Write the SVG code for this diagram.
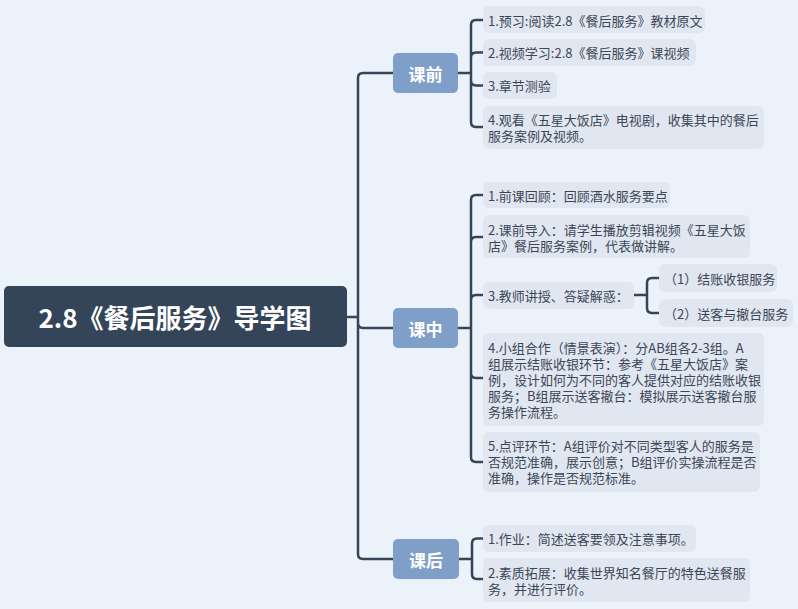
<svg xmlns="http://www.w3.org/2000/svg" width="798" height="609" viewBox="0 0 798 609">
<style>
.bg{fill:#ecf2f9}
.line{fill:none;stroke:#344459;stroke-width:2.5;stroke-linecap:round}
.root rect{fill:#344459}
.root text{fill:#ffffff;font-family:"Noto Sans CJK SC","Noto Sans",sans-serif;font-size:26px;font-weight:bold;text-anchor:middle;dominant-baseline:central}
.main rect{fill:#809fc8}
.main text{fill:#ffffff;font-family:"Noto Sans CJK SC","Noto Sans",sans-serif;font-size:17px;font-weight:bold;text-anchor:middle;dominant-baseline:central}
.leaf rect{fill:#e0e7f0}
.leaf text{fill:#3c4657;font-family:"Noto Sans CJK SC","Noto Sans",sans-serif;font-size:13px;dominant-baseline:central}
</style>
<rect class="bg" x="0" y="0" width="798" height="609"/>
<g id="connectors">
<path class="line" d="M347 317 H358 M358 317 V78 Q358 73 363 73 H393 M358 317 V323 Q358 328 363 328 H393 M358 317 V554 Q358 559 363 559 H393"/>
<path class="line" d="M458 73 H471 M471 73 V25 Q471 20 476 20 H483 M471 73 V57.5 Q471 52.5 476 52.5 H483 M471 73 V80.5 Q471 85.5 476 85.5 H483 M471 73 V122 Q471 127 476 127 H483"/>
<path class="line" d="M458 328 H471 M471 328 V200 Q471 195 476 195 H483 M471 328 V242 Q471 237 476 237 H483 M471 328 V300 Q471 295 476 295 H483 M471 328 V373 Q471 378 476 378 H483 M471 328 V457 Q471 462 476 462 H483"/>
<path class="line" d="M634 295 H647 M647 295 V283 Q647 278 652 278 H659 M647 295 V308 Q647 313 652 313 H659"/>
<path class="line" d="M459 559 H472 M472 559 V543.5 Q472 538.5 477 538.5 H483 M472 559 V574 Q472 579 477 579 H483"/>
</g>
<g id="root" class="root"><rect x="4" y="286" width="343" height="61" rx="5"/><text x="175" y="316.5">2.8《餐后服务》导学图</text></g>
<g id="pre" class="main"><rect x="393" y="53" width="65" height="40" rx="5"/><text x="425.5" y="73">课前</text></g>
<g id="mid" class="main"><rect x="393" y="308" width="65" height="40" rx="5"/><text x="425.5" y="328">课中</text></g>
<g id="post" class="main"><rect x="393" y="539" width="66" height="40" rx="5"/><text x="426" y="559">课后</text></g>
<g id="pre1" class="leaf"><rect x="483" y="6" width="222" height="27" rx="6"/><text x="488" y="20">1.预习:阅读2.8《餐后服务》教材原文</text></g>
<g id="pre2" class="leaf"><rect x="483" y="39" width="213" height="27" rx="6"/><text x="488" y="52.5">2.视频学习:2.8《餐后服务》课视频</text></g>
<g id="pre3" class="leaf"><rect x="483" y="72" width="74" height="27" rx="6"/><text x="488" y="85.5">3.章节测验</text></g>
<g id="pre4" class="leaf"><rect x="483" y="106" width="281" height="43" rx="6"/><text x="488" y="119">4.观看《五星大饭店》电视剧，收集其中的餐后<tspan x="488" y="135">服务案例及视频。</tspan></text></g>
<g id="mid1" class="leaf"><rect x="483" y="182" width="187" height="26" rx="6"/><text x="488" y="195">1.前课回顾：回顾酒水服务要点</text></g>
<g id="mid2" class="leaf"><rect x="483" y="215" width="267" height="43" rx="6"/><text x="488" y="229">2.课前导入：请学生播放剪辑视频《五星大饭<tspan x="488" y="245">店》餐后服务案例，代表做讲解。</tspan></text></g>
<g id="mid3" class="leaf"><rect x="483" y="282" width="151" height="27" rx="6"/><text x="488" y="295.5">3.教师讲授、答疑解惑：</text></g>
<g id="mid3a" class="leaf"><rect x="659" y="264" width="118" height="28" rx="6"/><text x="664" y="278">（1）结账收银服务</text></g>
<g id="mid3b" class="leaf"><rect x="659" y="299" width="134" height="28" rx="6"/><text x="664" y="313">（2）送客与撤台服务</text></g>
<g id="mid4" class="leaf"><rect x="483" y="333" width="281" height="93" rx="6"/><text x="488" y="347">4.小组合作（情景表演）：分AB组各2-3组。A<tspan x="488" y="363">组展示结账收银环节：参考《五星大饭店》案</tspan><tspan x="488" y="379">例，设计如何为不同的客人提供对应的结账收银</tspan><tspan x="488" y="395">服务；B组展示送客撤台：模拟展示送客撤台服</tspan><tspan x="488" y="411">务操作流程。</tspan></text></g>
<g id="mid5" class="leaf"><rect x="483" y="432" width="277" height="60" rx="6"/><text x="488" y="445">5.点评环节：A组评价对不同类型客人的服务是<tspan x="488" y="461">否规范准确，展示创意；B组评价实操流程是否</tspan><tspan x="488" y="477">准确，操作是否规范标准。</tspan></text></g>
<g id="post1" class="leaf"><rect x="483" y="525" width="213" height="27" rx="6"/><text x="488" y="538.5">1.作业：简述送客要领及注意事项。</text></g>
<g id="post2" class="leaf"><rect x="483" y="558" width="267" height="44" rx="6"/><text x="488" y="572">2.素质拓展：收集世界知名餐厅的特色送餐服<tspan x="488" y="588">务，并进行评价。</tspan></text></g>
</svg>
